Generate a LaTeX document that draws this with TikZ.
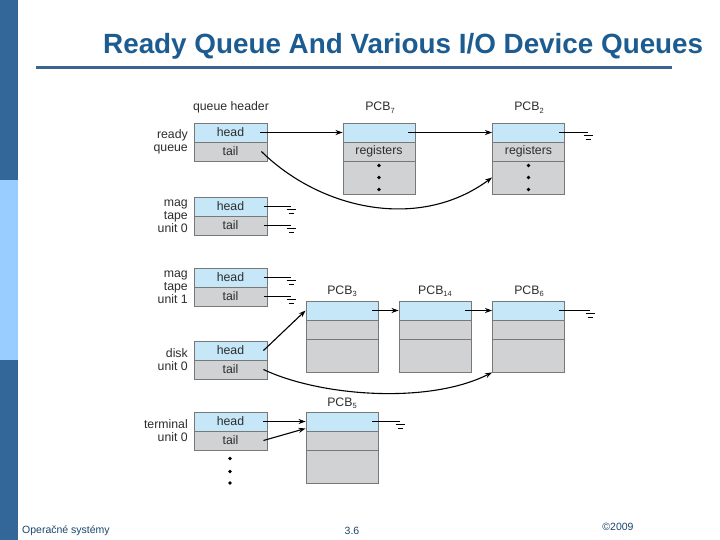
\documentclass[tikz,border=0pt]{standalone}
\usepackage{fontspec}
\setmainfont{Liberation Sans}
\usetikzlibrary{arrows.meta}
\definecolor{barDark}{RGB}{51,102,153}
\definecolor{barLight}{RGB}{153,204,255}
\definecolor{titleBlue}{RGB}{28,92,145}
\definecolor{ruleBlue}{RGB}{60,100,145}
\definecolor{footBlue}{RGB}{25,70,110}
\definecolor{cellBlue}{RGB}{198,231,248}
\definecolor{cellGray}{RGB}{209,210,212}
\definecolor{cellLine}{RGB}{120,120,120}
\definecolor{txtGray}{RGB}{45,45,45}
\newcommand\pcblabel[1]{PCB\raisebox{-2.5pt}{\fontsize{7.5}{7.5}\selectfont #1}}
\begin{document}
\begin{tikzpicture}[x=1pt,y=-1pt,
  cell/.style={draw=cellLine, line width=0.9pt, minimum width=73pt, minimum height=19pt, inner sep=0pt, font=\fontsize{12.3}{13}\selectfont, text=txtGray},
  hd/.style={cell, fill=cellBlue},
  tl/.style={cell, fill=cellGray},
  phd/.style={hd, minimum width=72pt},
  ptl/.style={tl, minimum width=72pt},
  pbig/.style={tl, minimum width=72pt, minimum height=33pt},
  lbl/.style={anchor=east, align=right, inner sep=0pt, text=txtGray, font=\fontsize{12.3}{13.2}\selectfont},
  plbl/.style={anchor=base, inner sep=0pt, text=txtGray, font=\fontsize{12.3}{13}\selectfont},
  wire/.style={draw=black, line width=1.1pt},
  arr/.style={wire, -{Stealth[length=7pt,width=5pt]}},
  gnd/.pic={\draw[line width=0.9pt] (-4.5,3) -- (4.5,3); \draw[line width=0.9pt] (-2.5,7) -- (2.5,7);},
  dot/.style={circle, fill=black, inner sep=0pt, minimum size=3.6pt},
  foot/.style={inner sep=0pt, text=footBlue, font=\fontsize{10.5}{12}\selectfont}
]
\useasboundingbox (0,0) rectangle (720,540);
\fill[white] (0,0) rectangle (720,540);
% side bar
\fill[barDark] (0,0) rectangle (18,180);
\fill[barLight] (0,180) rectangle (18,360);
\fill[barDark] (0,360) rectangle (18,540);
% title
\node[anchor=base west, inner sep=0pt, text=titleBlue, font=\bfseries\fontsize{26}{28}\selectfont] (title) at (103,54) {\resizebox{600pt}{!}{Ready Queue And Various I/O Device Queues}};
\draw[ruleBlue, line width=3pt] (36,68) -- (672,68);
% footer
\node[foot, anchor=west] (f1) at (22,531) {Operačné systémy};
\node[foot] (f2) at (352,531) {3.6};
\node[foot] (f3) at (618,527) {©2009};

% header label
\node[plbl] (qh) at (231,111) {queue header};

% queue headers
\node[hd] (rh) at (230.5,132.5) {head};
\node[tl] (rt) at (230.5,151.5) {tail};
\node[hd] (m0h) at (230.5,206.5) {head};
\node[tl] (m0t) at (230.5,225.5) {tail};
\node[hd] (m1h) at (230.5,277.5) {head};
\node[tl] (m1t) at (230.5,296.5) {tail};
\node[hd] (dh) at (230.5,350.5) {head};
\node[tl] (dt) at (230.5,369.5) {tail};
\node[hd] (th) at (230.5,421.5) {head};
\node[tl] (tt) at (230.5,440.5) {tail};

% left labels
\node[lbl] (l1) at (188,142) {ready\\queue};
\node[lbl] (l2) at (188,216) {mag\\tape\\unit 0};
\node[lbl] (l3) at (188,287) {mag\\tape\\unit 1};
\node[lbl] (l4) at (188,360) {disk\\unit 0};
\node[lbl] (l5) at (188,431) {terminal\\unit 0};

% terminal dots
\node[dot] (td1) at (230,458.5) {};
\node[dot] (td2) at (230,471.5) {};
\node[dot] (td3) at (230,483) {};

% PCB7
\node[plbl] (p7l) at (380,111) {\pcblabel{7}};
\node[phd] (p7a) at (379,132.5) {};
\node[ptl] (p7b) at (379,151.5) {registers};
\node[pbig] (p7c) at (379,177.5) {};
\node[dot] at (379,165.5) {};
\node[dot] at (379,177.5) {};
\node[dot] at (379,189.5) {};
% PCB2
\node[plbl] (p2l) at (529,111) {\pcblabel{2}};
\node[phd] (p2a) at (528.5,132.5) {};
\node[ptl] (p2b) at (528.5,151.5) {registers};
\node[pbig] (p2c) at (528.5,177.5) {};
\node[dot] at (528.5,165.5) {};
\node[dot] at (528.5,177.5) {};
\node[dot] at (528.5,189.5) {};
% PCB3
\node[plbl] (p3l) at (342,294) {\pcblabel{3}};
\node[phd] (p3a) at (342,310.5) {};
\node[ptl] (p3b) at (342,329.5) {};
\node[pbig] (p3c) at (342,355.5) {};
% PCB14
\node[plbl] (p14l) at (435,294) {\pcblabel{14}};
\node[phd] (p14a) at (435,310.5) {};
\node[ptl] (p14b) at (435,329.5) {};
\node[pbig] (p14c) at (435,355.5) {};
% PCB6
\node[plbl] (p6l) at (529,294) {\pcblabel{6}};
\node[phd] (p6a) at (528.5,310.5) {};
\node[ptl] (p6b) at (528.5,329.5) {};
\node[pbig] (p6c) at (528.5,355.5) {};
% PCB5
\node[plbl] (p5l) at (342,406) {\pcblabel{5}};
\node[phd] (p5a) at (342,421.5) {};
\node[ptl] (p5b) at (342,440.5) {};
\node[pbig] (p5c) at (342,466.5) {};

% ground points
\coordinate (g1) at (291,206.5);
\coordinate (g2) at (291,225.5);
\coordinate (g3) at (291,277.5);
\coordinate (g4) at (291,296.5);
\coordinate (g5) at (588,132.5);
\coordinate (g6) at (590,310.5);
\coordinate (g7) at (400,421.5);

% ready queue
\draw[arr] ([xshift=-7pt]rh.east) -- (p7a.west);
\draw[arr] ([xshift=-7pt]p7a.east) -- (p2a.west);
\draw[wire] ([xshift=-6pt]p2a.east) -- (g5);
\draw[arr] ([xshift=-6pt]rt.east) .. controls +(59,58) and +(-73,54) .. (p2c.west);
% mag tapes
\draw[wire] ([xshift=-3pt]m0h.east) -- (g1);
\draw[wire] ([xshift=-3pt]m0t.east) -- (g2);
\draw[wire] ([xshift=-3pt]m1h.east) -- (g3);
\draw[wire] ([xshift=-3pt]m1t.east) -- (g4);
% disk
\draw[arr] ([xshift=-4pt]dh.east) -- (p3a.west);
\draw[arr] ([xshift=-6pt]p3a.east) -- (p14a.west);
\draw[arr] ([xshift=-6pt]p14a.east) -- (p6a.west);
\draw[wire] ([xshift=-6pt]p6a.east) -- (g6);
\draw[arr] ([xshift=-4pt]dt.east) .. controls +(57,27) and +(-63,32) .. (p6c.south west);
% terminal
\draw[arr] ([xshift=-4pt]th.east) -- (p5a.west);
\draw[arr] ([xshift=-4pt]tt.east) -- ([yshift=3pt]p5a.south west);
\draw[wire] ([xshift=-6pt]p5a.east) -- (g7);

\foreach \g in {g1,g2,g3,g4,g5,g6,g7} \pic at (\g) {gnd};
\end{tikzpicture}
\end{document}
